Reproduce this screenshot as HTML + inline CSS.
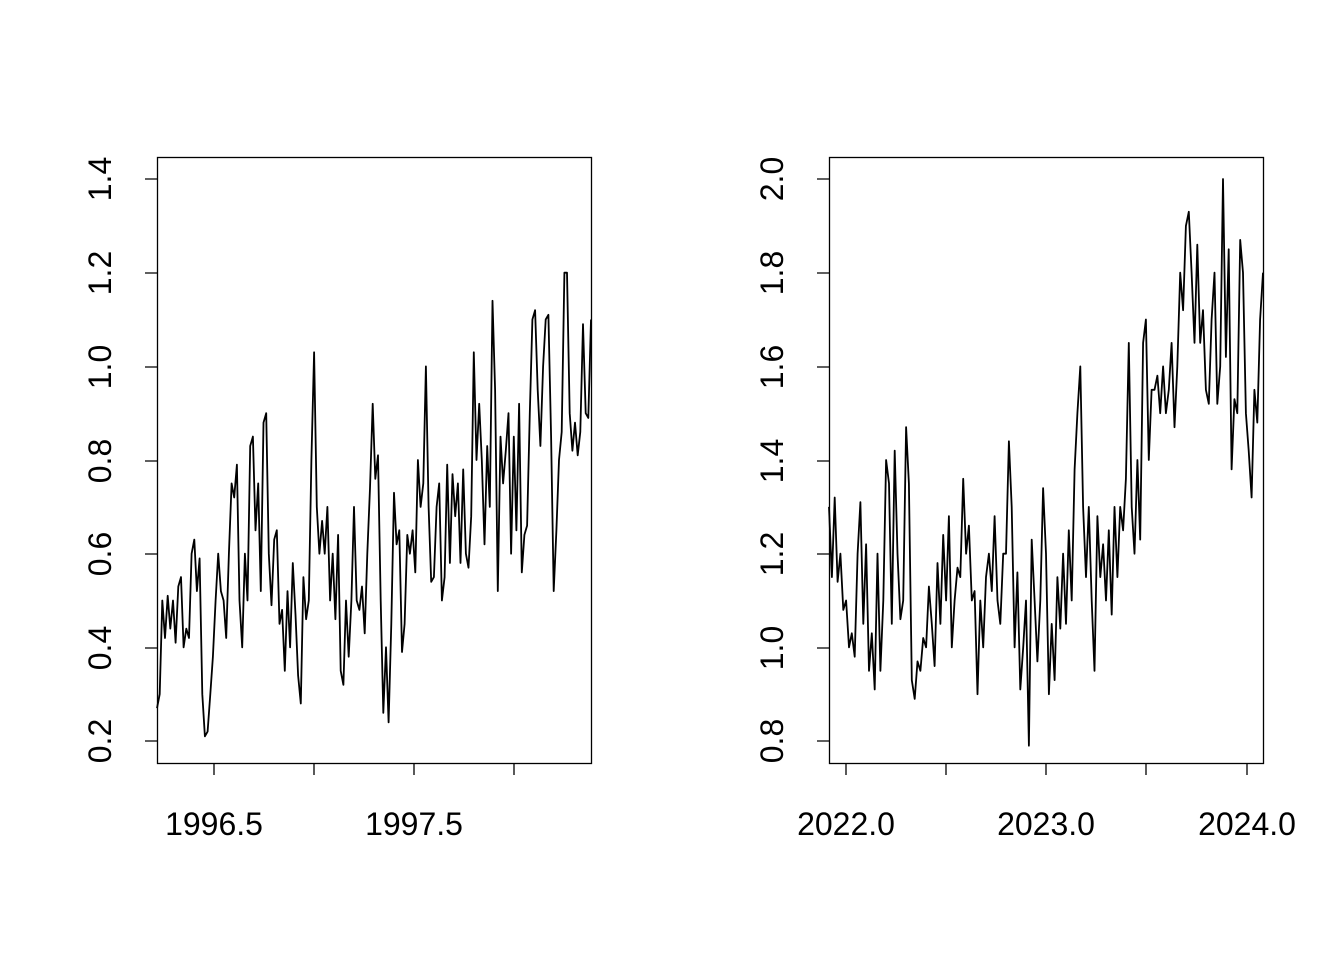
<!DOCTYPE html>
<html><head><meta charset="utf-8"><style>
html,body{margin:0;padding:0;background:#fff;}
svg text{font-family:"Liberation Sans",Arial,sans-serif;font-size:32px;fill:#000;}
</style></head><body>
<svg id="s" width="1344" height="960" xmlns="http://www.w3.org/2000/svg">
<rect width="1344" height="960" fill="#fff"/>
<g stroke="#000" stroke-width="1.3" fill="none">
<rect x="157.5" y="157.5" width="434" height="606"/>
<rect x="829.5" y="157.5" width="434" height="606"/>
<path d="M157 179H145M157 273H145M157 367H145M157 461H145M157 554H145M157 648H145M157 741H145"/>
<path d="M214 763V775M314 763V775M414 763V775M514 763V775"/>
<path d="M829 179H817M829 273H817M829 367H817M829 461H817M829 554H817M829 648H817M829 741H817"/>
<path d="M846 763V775M946 763V775M1046 763V775M1146 763V775M1247 763V775"/>
<polyline id="p1" stroke-width="1.8" stroke-linejoin="round"/>
<polyline id="p2" stroke-width="1.8" stroke-linejoin="round"/>
</g>
<g text-anchor="middle">
<text transform="translate(111,741) rotate(-90)">0.2</text>
<text transform="translate(111,648) rotate(-90)">0.4</text>
<text transform="translate(111,554) rotate(-90)">0.6</text>
<text transform="translate(111,461) rotate(-90)">0.8</text>
<text transform="translate(111,367) rotate(-90)">1.0</text>
<text transform="translate(111,273) rotate(-90)">1.2</text>
<text transform="translate(111,179) rotate(-90)">1.4</text>
<text x="214" y="835">1996.5</text>
<text x="414" y="835">1997.5</text>
<text transform="translate(783,741) rotate(-90)">0.8</text>
<text transform="translate(783,648) rotate(-90)">1.0</text>
<text transform="translate(783,554) rotate(-90)">1.2</text>
<text transform="translate(783,461) rotate(-90)">1.4</text>
<text transform="translate(783,367) rotate(-90)">1.6</text>
<text transform="translate(783,273) rotate(-90)">1.8</text>
<text transform="translate(783,179) rotate(-90)">2.0</text>
<text x="846" y="835">2022.0</text>
<text x="1046" y="835">2023.0</text>
<text x="1247" y="835">2024.0</text>
</g>
</svg>
<script>
var a=[0.27,0.3,0.5,0.42,0.51,0.44,0.5,0.41,0.53,0.55,0.4,0.44,0.42,0.6,0.63,0.52,0.59,0.3,0.21,0.22,0.3,0.38,0.5,0.6,0.52,0.5,0.42,0.6,0.75,0.72,0.79,0.5,0.4,0.6,0.5,0.83,0.85,0.65,0.75,0.52,0.88,0.9,0.6,0.49,0.63,0.65,0.45,0.48,0.35,0.52,0.4,0.58,0.47,0.34,0.28,0.55,0.46,0.5,0.8,1.03,0.7,0.6,0.67,0.6,0.7,0.5,0.6,0.46,0.64,0.35,0.32,0.5,0.38,0.5,0.7,0.5,0.48,0.53,0.43,0.6,0.74,0.92,0.76,0.81,0.5,0.26,0.4,0.24,0.45,0.73,0.62,0.65,0.39,0.45,0.64,0.6,0.65,0.56,0.8,0.7,0.75,1.0,0.7,0.54,0.55,0.7,0.75,0.5,0.55,0.79,0.58,0.77,0.68,0.75,0.58,0.78,0.6,0.57,0.68,1.03,0.8,0.92,0.8,0.62,0.83,0.7,1.14,0.95,0.52,0.85,0.75,0.82,0.9,0.6,0.85,0.65,0.92,0.56,0.64,0.66,0.9,1.1,1.12,0.95,0.83,1.0,1.1,1.11,0.85,0.52,0.65,0.8,0.86,1.2,1.2,0.9,0.82,0.88,0.81,0.86,1.09,0.9,0.89,1.1];
var b=[1.3,1.15,1.32,1.14,1.2,1.08,1.1,1.0,1.03,0.98,1.2,1.31,1.05,1.22,0.95,1.03,0.91,1.2,0.95,1.1,1.4,1.35,1.05,1.42,1.2,1.06,1.1,1.47,1.35,0.93,0.89,0.97,0.95,1.02,1.0,1.13,1.05,0.96,1.18,1.05,1.24,1.1,1.28,1.0,1.1,1.17,1.15,1.36,1.2,1.26,1.1,1.12,0.9,1.1,1.0,1.15,1.2,1.12,1.28,1.1,1.05,1.2,1.2,1.44,1.3,1.0,1.16,0.91,1.0,1.1,0.79,1.23,1.1,0.97,1.1,1.34,1.2,0.9,1.05,0.93,1.15,1.04,1.2,1.05,1.25,1.1,1.38,1.5,1.6,1.3,1.15,1.3,1.1,0.95,1.28,1.15,1.22,1.1,1.25,1.07,1.3,1.15,1.3,1.25,1.36,1.65,1.3,1.2,1.4,1.23,1.65,1.7,1.4,1.55,1.55,1.58,1.5,1.6,1.5,1.55,1.65,1.47,1.6,1.8,1.72,1.9,1.93,1.8,1.65,1.86,1.65,1.72,1.55,1.52,1.7,1.8,1.52,1.6,2.0,1.62,1.85,1.38,1.53,1.5,1.87,1.8,1.5,1.42,1.32,1.55,1.48,1.7,1.8];
function pts(d,x0,w,y0,ys,v0){var s=[];for(var i=0;i<d.length;i++){s.push((x0+i*w/(d.length-1)).toFixed(1)+","+(y0-(d[i]-v0)*ys).toFixed(1));}return s.join(" ");}
document.getElementById("p1").setAttribute("points",pts(a,157,434,741,468.3,0.2));
document.getElementById("p2").setAttribute("points",pts(b,829,434,741,468.3,0.8));
</script>
</body></html>
